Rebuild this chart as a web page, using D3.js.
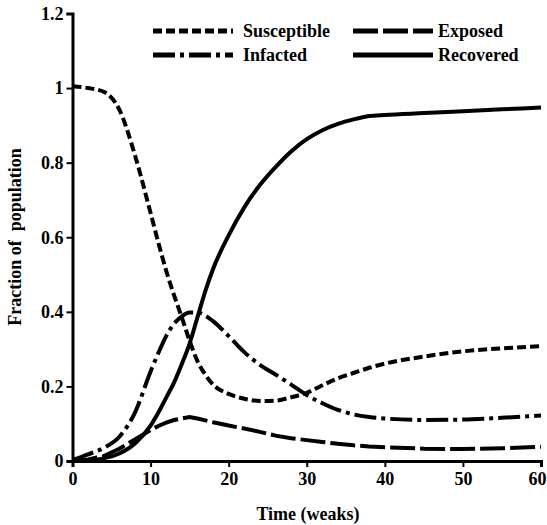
<!DOCTYPE html>
<html>
<head>
<meta charset="utf-8">
<script src="https://cdn.jsdelivr.net/npm/d3@7"></script>
<style>
  body { margin: 0; background: #fff; }
  text { font-family: "Liberation Serif", "Times New Roman", serif; font-weight: bold; fill: #000; }
</style>
</head>
<body>
<div id="chart"></div>
<script>
// time grid (weeks) shared by all series
var weeks = [0, 2, 4, 6, 8, 10, 11, 12, 13, 14, 15, 16, 17, 18, 20, 22, 24, 26, 28, 30, 32, 34, 36, 38, 40, 45, 50, 55, 60];

var susceptible = [1.005, 1.0, 0.99, 0.942, 0.82, 0.665, 0.585, 0.51, 0.445, 0.385, 0.322, 0.268, 0.232, 0.205, 0.18, 0.167, 0.161, 0.162, 0.171, 0.183, 0.203, 0.222, 0.236, 0.25, 0.261, 0.28, 0.294, 0.302, 0.308];
var exposed     = [0.0, 0.004, 0.013, 0.033, 0.058, 0.083, 0.094, 0.103, 0.11, 0.114, 0.118, 0.114, 0.109, 0.104, 0.095, 0.087, 0.078, 0.068, 0.061, 0.056, 0.051, 0.046, 0.042, 0.039, 0.037, 0.033, 0.032, 0.034, 0.038];
var infected    = [0.003, 0.018, 0.035, 0.065, 0.13, 0.24, 0.29, 0.335, 0.368, 0.388, 0.398, 0.398, 0.39, 0.375, 0.335, 0.292, 0.258, 0.232, 0.205, 0.177, 0.155, 0.137, 0.125, 0.118, 0.114, 0.11, 0.111, 0.116, 0.122];
var recovered   = [0.0, 0.002, 0.007, 0.02, 0.047, 0.095, 0.13, 0.17, 0.21, 0.26, 0.315, 0.385, 0.455, 0.515, 0.605, 0.68, 0.74, 0.788, 0.83, 0.863, 0.887, 0.904, 0.916, 0.925, 0.928, 0.933, 0.938, 0.943, 0.948];

var xTicks = [0, 10, 20, 30, 40, 50, 60];
var yTicks = [0, 0.2, 0.4, 0.6, 0.8, 1, 1.2];

var seriesNames = ["Susceptible", "Exposed", "Infacted", "Recovered"];
var seriesValues = [susceptible, exposed, infected, recovered];
var seriesDash = ["9,4", "25,5", "22,5,4,5", null];

var width = 547, height = 525;

var svg = d3.select("#chart").append("svg")
    .attr("width", width)
    .attr("height", height);

var x = d3.scaleLinear().domain([0, 60]).range([72.5, 541]);
var y = d3.scaleLinear().domain([0, 1.2]).range([461, 13.5]);

// axes
var xAxis = svg.append("g")
    .attr("transform", "translate(0," + y(0) + ")")
    .call(d3.axisBottom(x).tickValues(xTicks).tickSizeOuter(0).tickSize(6).tickPadding(5));
var yAxis = svg.append("g")
    .attr("transform", "translate(" + x(0) + ",0)")
    .call(d3.axisLeft(y).tickValues(yTicks).tickFormat(d3.format("~g")).tickSizeOuter(0).tickSize(6).tickPadding(3));

[xAxis, yAxis].forEach(function(g){
    g.select(".domain").attr("stroke", "#000").attr("stroke-width", 3);
    g.selectAll(".tick line").attr("stroke", "#000").attr("stroke-width", 2);
    g.selectAll(".tick text").attr("font-size", 18).attr("font-family", null);
});
// last x label sits against the right edge
xAxis.selectAll(".tick text").filter(function(d){ return d == 60; }).attr("dx", -4);

// lines
var line = d3.line()
    .x(function(d){ return x(d[0]); })
    .y(function(d){ return y(d[1]); });

seriesValues.forEach(function(vals, i){
    var pts = weeks.map(function(w, j){ return [w, vals[j]]; });
    line.curve(seriesNames[i] == "Exposed" ? d3.curveLinear : d3.curveMonotoneX);
    svg.append("path")
        .attr("fill", "none")
        .attr("stroke", "#000")
        .attr("stroke-width", 4)
        .attr("stroke-dasharray", seriesDash[i])
        .attr("d", line(pts));
});

// legend
var legendPos = [[153, 31, 243], [353, 31, 438], [153, 55, 243], [353, 55, 438]];
seriesNames.forEach(function(name, i){
    var p = legendPos[i];
    svg.append("line")
        .attr("x1", p[0]).attr("x2", p[0] + 80)
        .attr("y1", p[1]).attr("y2", p[1])
        .attr("stroke", "#000")
        .attr("stroke-width", 5)
        .attr("stroke-dasharray", seriesDash[i]);
    svg.append("text")
        .attr("x", p[2])
        .attr("y", p[1] + 6)
        .attr("font-size", 18)
        .text(name);
});

// axis titles
svg.append("text")
    .attr("x", 308)
    .attr("y", 520)
    .attr("text-anchor", "middle")
    .attr("font-size", 18)
    .text("Time (weaks)");

svg.append("text")
    .attr("transform", "translate(21,237) rotate(-90)")
    .attr("text-anchor", "middle")
    .attr("font-size", 18)
    .style("white-space", "pre")
    .text("Fraction of  population");
</script>
</body>
</html>
